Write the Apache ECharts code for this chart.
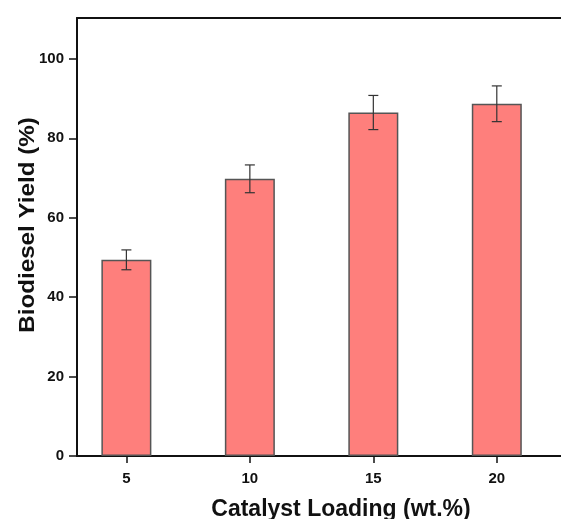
<!DOCTYPE html>
<html>
<head>
<meta charset="utf-8">
<script src="https://cdn.jsdelivr.net/npm/echarts@6/dist/echarts.min.js"></script>
<style>html,body{margin:0;padding:0;background:#fff;}#c{width:561px;height:519px;}</style>
</head>
<body>
<div id="c"></div>
<script>
var loadings = [5, 10, 15, 20];
var yields = [49.4, 69.8, 86.5, 88.7];
var errors = [2.5, 3.5, 4.3, 4.5];
var yTicks = [0, 20, 40, 60, 80, 100];
var xTitle = 'Catalyst Loading (wt.%)';
var yTitle = 'Biodiesel Yield (%)';

var chart = echarts.init(document.getElementById('c'), null, {renderer: 'canvas'});
var font = '"Liberation Sans", Arial, sans-serif';
var barData = loadings.map(function (x, i) { return [x, yields[i]]; });
var errData = loadings.map(function (x, i) { return [x, yields[i] - errors[i], yields[i] + errors[i]]; });

chart.setOption({
  animation: false,
  backgroundColor: '#fff',
  grid: {left: 77, top: 18, right: 0, bottom: 63, containLabel: false},
  graphic: [{
    type: 'text', position: [341, 510],
    style: {text: xTitle, font: 'bold 23px ' + font, fill: '#111', align: 'center', verticalAlign: 'middle'}
  }, {
    type: 'text', position: [28, 225], rotation: Math.PI / 2, scaleX: 1.1,
    style: {text: yTitle, font: 'bold 22px ' + font, fill: '#111', align: 'center', verticalAlign: 'middle'}
  }],
  xAxis: [{
    type: 'value', min: 3, max: 22.6,
    axisLine: {show: true, onZero: false, lineStyle: {color: '#111', width: 2}},
    axisTick: {show: true, inside: false, length: 7, lineStyle: {color: '#111', width: 1.5}, customValues: loadings},
    axisLabel: {fontFamily: font, fontWeight: 'bold', fontSize: 15, color: '#111', margin: 15, customValues: loadings},
    splitLine: {show: false}
  }, {
    type: 'value', position: 'top', min: 3, max: 22.6,
    axisLine: {show: true, onZero: false, lineStyle: {color: '#111', width: 2}},
    axisTick: {show: false}, axisLabel: {show: false}, splitLine: {show: false}
  }],
  yAxis: {
    type: 'value', min: 0, max: 110.3,
    axisLine: {show: true, onZero: false, lineStyle: {color: '#111', width: 2}},
    axisTick: {show: true, inside: false, length: 8, lineStyle: {color: '#111', width: 1.5}, customValues: yTicks},
    axisLabel: {fontFamily: font, fontWeight: 'bold', fontSize: 15, color: '#111', margin: 13, customValues: yTicks},
    splitLine: {show: false}
  },
  series: [{
    type: 'bar',
    data: barData,
    barWidth: 50,
    itemStyle: {color: '#FE7F7C', borderColor: '#555', borderWidth: 1.5}
  }, {
    type: 'custom',
    data: errData,
    z: 5,
    renderItem: function (params, api) {
      var x = api.value(0);
      var lo = api.coord([x, api.value(1)]);
      var hi = api.coord([x, api.value(2)]);
      var cap = 5;
      var st = {stroke: '#333', lineWidth: 1.2};
      return {
        type: 'group',
        children: [
          {type: 'line', shape: {x1: hi[0], y1: hi[1], x2: lo[0], y2: lo[1]}, style: st},
          {type: 'line', shape: {x1: hi[0] - cap, y1: hi[1], x2: hi[0] + cap, y2: hi[1]}, style: st},
          {type: 'line', shape: {x1: lo[0] - cap, y1: lo[1], x2: lo[0] + cap, y2: lo[1]}, style: st}
        ]
      };
    }
  }]
});
</script>
</body>
</html>
